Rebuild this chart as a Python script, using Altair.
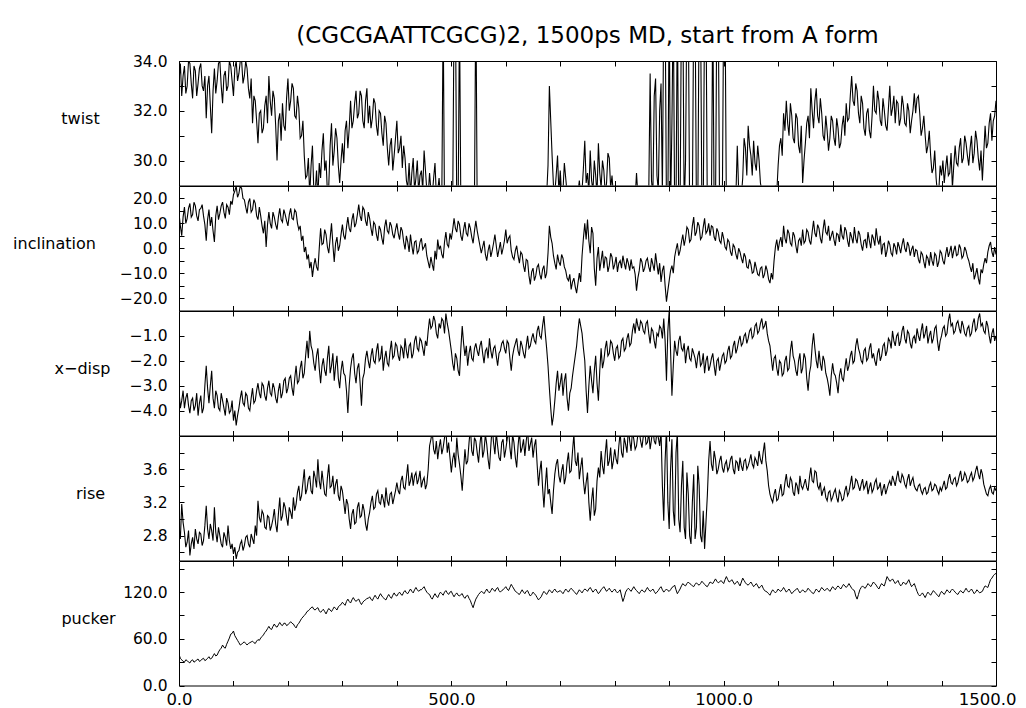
import json
import altair as alt
import pandas as pd

STEP = 5  # ps between samples of the main arrays; *_half arrays sit half-way between
FONT = "DejaVu Sans"

twist = [
    33.2, 32.6, 33.8, 33.0, 33.9, 32.5, 33.6, 33.1, 33.9, 32.8,
    31.7, 33.4, 31.1, 33.7, 33.2, 34.0, 32.3, 33.6, 33.0, 33.8,
    32.6, 34.0, 33.5, 34.0, 33.4, 33.7, 32.5, 31.5, 32.4, 30.7,
    32.0, 31.3, 32.6, 33.4, 31.8, 32.5, 30.0, 31.9, 32.3, 31.2,
    33.3, 32.4, 32.9, 31.7, 32.1, 31.0, 30.2, 29.4, 28.6, 30.6,
    28.7, 28.5, 29.3, 31.1, 30.0, 29.0, 31.5, 30.4, 30.9, 29.1,
    30.7, 31.2, 30.5, 32.4, 31.6, 32.8, 31.9, 32.6, 31.3, 32.9,
    32.2, 31.7, 32.3, 31.0, 31.9, 30.6, 31.5, 29.8, 30.9, 30.2,
    31.6, 30.5, 29.7, 30.1, 28.9, 28.6, 30.1, 29.3, 28.7, 29.6,
    30.4, 28.8, 29.5, 28.6, 29.9, 28.8, 28.5, 36.0, 28.0, 28.5,
    28.2, 36.0, 28.0, 36.0, 28.0, 28.5, 28.4, 28.6, 28.5, 37.0,
    28.0, 28.4, 28.6, 28.5, 28.7, 28.4, 28.6, 28.5, 28.7, 28.4,
    28.5, 28.6, 28.4, 28.7, 28.5, 28.6, 28.4, 28.5, 28.7, 28.6,
    28.5, 28.4, 28.6, 28.5, 28.7, 28.6, 33.0, 30.2, 28.7, 30.2,
    29.6, 28.8, 29.3, 28.6, 28.5, 28.7, 28.6, 29.2, 28.8, 30.8,
    29.5, 30.4, 28.8, 29.4, 30.7, 28.9, 29.6, 29.1, 30.1, 29.4,
    28.7, 28.5, 28.6, 28.5, 28.4, 28.6, 28.5, 28.7, 29.5, 28.6,
    28.5, 28.6, 28.5, 33.5, 28.6, 33.3, 28.8, 33.1, 36.5, 28.0,
    36.5, 31.5, 28.0, 36.5, 28.0, 36.5, 30.0, 36.5, 28.0, 36.5,
    28.0, 36.5, 28.0, 36.5, 28.0, 28.5, 36.5, 28.0, 36.5, 28.0,
    36.5, 28.0, 28.5, 28.6, 28.5, 30.6, 28.7, 29.3, 30.5, 31.4,
    30.2, 30.8, 29.6, 30.0, 28.8, 28.5, 28.5, 28.6, 28.5, 29.0,
    29.8, 30.9, 31.9, 32.4, 31.0, 31.8, 30.7, 31.7, 30.3, 29.1,
    30.7, 31.8, 32.9, 31.3, 32.9, 31.5, 31.9, 30.8, 31.2, 30.9,
    31.6, 30.6, 31.3, 30.7, 31.8, 32.3, 31.7, 33.4, 32.2, 32.8,
    31.5, 32.3, 31.0, 32.1, 30.9, 33.0, 31.9, 32.4, 31.4, 32.0,
    31.2, 33.0, 32.1, 31.5, 32.3, 31.7, 32.2, 31.4, 32.0, 31.6,
    32.7, 32.5, 31.9, 31.3, 31.0, 30.6, 30.2, 29.7, 29.3, 28.8,
    29.4, 29.1, 30.2, 29.5, 28.9, 30.6, 29.8, 30.9, 30.1, 30.7,
    29.8, 31.0, 30.3, 30.8, 29.6, 29.2, 31.4, 30.7, 31.9, 31.6,
    32.4,
]
twist_half = [
    33.9, 33.4, 32.7, 34.0, 33.1, 33.8, 32.6, 33.7, 33.0, 33.4,
    33.0, 32.2, 32.8, 32.7, 33.9, 33.0, 33.4, 32.8, 34.0, 33.2,
    33.7, 33.2, 34.0, 33.1, 34.0, 32.9, 33.3, 32.6, 31.6, 31.9,
    31.1, 32.2, 31.5, 32.4, 32.8, 31.4, 31.6, 30.8, 31.4, 32.5,
    32.0, 33.1, 31.8, 32.6, 30.9, 31.6, 29.3, 30.1, 29.8, 28.8,
    29.6, 29.9, 30.4, 29.6, 28.7, 30.6, 29.8, 31.3, 29.8, 30.0,
    29.9, 31.6, 31.3, 31.3, 32.3, 31.7, 32.8, 31.6, 32.4, 31.5,
    31.3, 32.5, 31.4, 32.0, 31.1, 31.8, 30.5, 30.6, 29.6, 30.9,
    30.3, 31.0, 30.6, 29.2, 29.9, 29.5, 28.8, 30.0, 29.4, 28.8,
    29.6, 28.6, 28.8, 29.3, 28.6, 29.3, 28.4, 28.0, 28.4, 28.6,
    28.3, 36.5, 28.2, 28.0, 28.6, 28.5, 28.7, 28.4, 28.5, 28.0,
    28.5, 28.6, 28.4, 28.6, 28.5, 28.7, 28.4, 28.6, 28.5, 28.6,
    28.4, 28.5, 28.6, 28.4, 28.7, 28.5, 28.6, 28.4, 28.5, 28.7,
    28.6, 28.5, 28.4, 28.6, 28.5, 29.8, 31.6, 29.0, 29.4, 28.7,
    28.6, 29.9, 28.7, 28.5, 28.6, 28.5, 28.7, 28.6, 29.7, 29.1,
    28.7, 29.2, 30.0, 28.6, 29.5, 30.0, 28.7, 30.3, 28.9, 28.6,
    28.6, 28.4, 28.5, 28.6, 28.5, 28.4, 28.6, 28.5, 28.6, 28.4,
    28.4, 28.6, 28.7, 29.2, 32.6, 29.4, 32.0, 28.6, 36.5, 28.0,
    28.0, 36.5, 28.0, 28.0, 36.5, 28.0, 36.5, 28.0, 28.0, 36.5,
    28.0, 36.5, 28.0, 36.5, 28.4, 28.0, 28.0, 36.5, 28.0, 28.0,
    36.5, 28.4, 28.6, 28.5, 28.6, 28.8, 28.6, 30.9, 29.4, 30.6,
    29.4, 29.9, 30.6, 29.1, 28.6, 28.6, 28.4, 28.5, 28.6, 28.7,
    30.6, 30.2, 31.2, 31.5, 32.3, 30.9, 31.9, 30.6, 31.4, 30.0,
    31.5, 30.9, 32.0, 32.4, 31.8, 32.5, 31.0, 31.8, 30.4, 31.8,
    30.9, 31.7, 30.5, 31.4, 31.0, 31.6, 32.6, 32.4, 33.1, 31.9,
    32.6, 31.3, 31.9, 31.2, 31.8, 32.0, 32.8, 31.6, 32.5, 31.4,
    32.1, 31.8, 32.6, 32.4, 31.4, 32.6, 31.5, 32.3, 31.1, 32.0,
    31.9, 32.6, 31.0, 31.8, 30.3, 31.2, 29.5, 30.4, 28.7, 29.8,
    30.0, 29.7, 29.4, 30.3, 29.8, 29.9, 30.5, 29.9, 31.0, 30.2,
    30.5, 29.9, 31.2, 30.1, 30.4, 30.3, 30.5, 31.5, 30.8, 31.8,
]

inclination = [
    14.0, 5.0, 16.5, 12.0, 18.0, 13.5, 17.0, 11.0, 16.0, 13.0,
    3.0, 15.5, 12.5, 2.5, 17.0, 14.0, 18.5, 12.0, 16.5, 19.0,
    21.5, 25.0, 22.0, 24.0, 19.5, 14.0, 20.0, 15.5, 18.0, 11.5,
    13.0, 6.0, 0.5, 14.5, 8.0, 12.5, 7.5, 16.0, 10.5, 13.5,
    9.0, 16.0, 11.5, 14.5, 7.5, 3.0, -1.5, -4.5, -8.0, -11.5,
    -4.0, -9.0, 8.0, 2.0, 5.5, -2.0, 10.0, -5.5, 4.5, 1.0,
    9.5, 3.5, 12.5, 6.5, 14.0, 10.0, 17.5, 11.0, 15.5, 9.0,
    12.0, 5.0, 9.5, 3.0, 7.5, 1.5, 11.5, 6.0, 9.0, 4.0,
    10.0, 3.5, 7.0, -0.5, 2.5, 5.5, -2.5, 3.0, -1.0, 4.0,
    0.5, -3.0, -8.0, -6.5, -1.0, 3.5, 1.0, -4.0, 6.5, 0.5,
    3.5, 12.0, 6.5, 9.5, 3.0, 10.5, 5.0, 8.0, 2.0, 11.0,
    4.0, -2.0, 3.0, -5.0, 1.5, -1.0, 5.5, -3.5, 2.5, 0.0,
    7.5, 4.0, -1.0, -4.5, 1.0, -6.0, -2.5, -9.5, -5.0, -14.5,
    -8.0, -11.0, -6.5, -12.5, -7.0, -10.0, 9.0, 2.0, -6.0, -2.5,
    -7.0, -4.0, -9.0, -13.0, -16.5, -12.0, -18.0, -10.0, -3.0, 10.0,
    11.5, -2.0, 6.0, -15.0, 0.5, -5.0, -8.0, -4.0, -7.0, -3.5,
    -6.5, -9.5, -5.0, -3.0, -8.5, -6.0, -4.5, -7.5, -17.0, -9.0,
    -5.5, -8.0, -4.0, -9.5, -6.5, -2.0, -10.5, -13.5, -7.0, -21.5,
    -13.0, -7.0, -3.5, 2.0, -1.0, 5.5, 4.0, 7.5, 3.5, 12.5,
    6.5, 9.0, 4.5, 12.0, 7.0, 5.0, 8.5, 3.0, 6.5, 2.0,
    4.0, -0.5, 2.5, -3.0, 0.5, -4.5, -1.5, -6.0, -3.5, -8.0,
    -6.5, -9.5, -8.0, -11.0, -7.5, -10.5, -9.0, -14.0, -12.5, 0.5,
    -1.0, 4.5, 9.0, 2.0, 6.0, 1.0, 5.0, -2.0, 4.0, 7.5,
    3.0, 6.5, 1.5, 11.0, 4.5, 8.0, 2.0, 11.5, 5.5, 3.0,
    7.0, 1.0, 5.5, 9.5, 3.5, 7.0, 0.5, 4.5, 8.5, 2.0,
    5.5, -1.0, 3.5, 6.5, 0.0, 4.0, 8.0, 1.5, -2.5, 2.0,
    -1.0, 1.5, -3.0, 0.5, 2.5, -2.0, 4.0, -1.5, 1.0, -0.5,
    -3.5, -1.0, -6.0, -2.5, -8.0, -4.0, -1.5, -7.0, -3.0, -5.5,
    -2.0, -6.5, 0.5, -1.5, -4.0, 1.0, -2.5, 0.0, -3.0, -1.0,
    -5.0, -9.5, -12.5, -8.0, -14.5, -10.0, -4.0, -1.5, 2.5, -3.5,
    -2.5,
]
inclination_half = [
    9.0, 12.5, 10.0, 16.0, 12.5, 18.5, 13.0, 15.5, 17.5, 9.5,
    11.5, 9.0, 7.0, 13.0, 11.5, 17.0, 14.5, 17.5, 13.5, 17.5,
    23.0, 20.5, 25.0, 20.0, 16.5, 18.5, 14.5, 19.5, 13.0, 16.5,
    9.0, 11.0, 9.5, 10.0, 14.5, 9.5, 12.5, 11.5, 15.5, 11.0,
    13.5, 12.0, 15.5, 10.0, 9.0, 5.0, 0.5, -2.5, -5.5, -7.0,
    -7.5, 0.0, 1.5, 7.5, 0.5, 4.0, 1.5, 2.0, -1.0, 5.5,
    5.0, 8.5, 8.0, 11.5, 8.5, 13.5, 13.0, 16.5, 11.0, 14.5,
    8.0, 10.5, 5.5, 9.0, 4.0, 8.5, 7.0, 10.5, 5.5, 7.5,
    6.0, 8.5, 2.5, 5.0, -1.5, 1.0, 2.5, -2.0, 2.5, -0.5,
    2.0, -5.5, -3.5, -9.0, -4.5, -0.5, -2.5, 2.5, 1.5, 6.0,
    7.5, 8.0, 11.0, 5.0, 7.5, 6.0, 10.0, 4.5, 7.0, 7.0,
    1.0, 0.5, -2.5, -1.0, -3.5, 2.0, 1.0, -0.5, -2.5, 3.0,
    2.0, 5.0, -3.5, -1.0, -3.0, -1.5, -7.0, -4.5, -11.0, -9.5,
    -13.0, -7.5, -10.5, -8.5, -12.0, -2.0, 4.5, -3.0, -8.5, -5.5,
    -2.5, -7.5, -12.0, -10.5, -13.5, -15.5, -14.0, -13.5, 4.0, 3.5,
    3.0, 8.5, -8.0, -4.0, -9.0, -1.0, -3.5, -9.5, -2.0, -8.5,
    -3.5, -6.0, -8.0, -6.0, -4.0, -9.0, -8.0, -10.5, -12.0, -4.0,
    -9.5, -5.0, -7.5, -4.0, -9.0, -6.5, -6.0, -9.0, -15.0, -17.0,
    -9.0, -10.0, -0.5, -3.0, 2.5, 1.0, 8.5, 2.5, 9.0, 5.0,
    10.5, 3.5, 8.5, 6.0, 10.0, 9.0, 4.5, 8.0, 3.0, 6.5,
    0.5, 3.5, -1.5, 1.5, -2.5, 0.0, -4.0, -2.0, -7.5, -4.5,
    -10.0, -5.5, -10.5, -8.0, -12.0, -7.0, -12.5, -10.0, -5.0, 3.5,
    2.5, 0.5, 4.0, 7.5, 2.0, 6.5, 1.0, 3.0, 1.0, 2.0,
    7.5, 3.0, 6.5, 6.0, 9.5, 4.0, 7.5, 6.5, 9.0, 5.0,
    3.5, 6.0, 2.5, 5.0, 8.5, 3.0, 6.5, 2.0, 4.0, 7.0,
    1.5, 3.0, 0.0, 3.0, 5.5, 1.0, 3.5, 5.0, 1.5, -3.5,
    3.0, -2.0, 2.0, -2.5, 0.5, 1.5, 0.0, 2.5, -3.0, 1.0,
    -0.5, -4.5, -1.5, -5.5, -3.0, -7.0, -5.0, -2.0, -7.5, -1.0,
    -5.0, -2.5, -3.5, 1.0, -1.0, -3.0, 1.5, -4.0, 0.5, -3.5,
    -7.5, -6.0, -10.5, -12.0, -8.5, -6.5, -6.0, 1.0, -1.5, 0.5,
]

xdisp = [
    -3.2, -3.6, -3.9, -3.3, -4.1, -3.5, -3.8, -4.2, -3.4, -3.9,
    -2.2, -3.7, -2.4, -3.9, -3.4, -4.0, -3.6, -4.2, -3.7, -4.0,
    -4.4, -4.6, -3.9, -3.2, -3.8, -3.4, -4.0, -3.1, -3.6, -2.9,
    -3.5, -3.0, -3.6, -2.8, -3.4, -3.1, -3.7, -2.9, -3.3, -2.7,
    -3.1, -2.6, -3.4, -2.2, -2.8, -2.0, -2.5, -1.2, -0.8, -1.6,
    -2.4, -1.5, -2.9, -1.9, -2.6, -1.4, -2.2, -2.8, -1.8, -3.1,
    -2.0, -2.6, -4.1, -2.3, -1.7, -2.9, -2.1, -3.8, -2.5, -1.6,
    -2.3, -1.5, -2.1, -1.3, -1.9, -2.4, -1.6, -2.2, -1.2, -1.8,
    -1.4, -2.0, -1.5, -1.1, -1.9, -1.3, -1.7, -1.0, -1.6, -1.2,
    -1.8, -1.4, -0.3, -0.6, -0.4, -1.1, -0.7, -0.4, -0.1, -0.8,
    -1.6, -2.4, -1.9, -2.6, -0.6, -1.8, -2.2, -1.4, -2.0, -1.3,
    -1.8, -1.2, -2.1, -1.5, -1.1, -1.9, -1.4, -2.2, -1.6, -1.2,
    -1.7, -1.3, -2.4, -1.5, -1.1, -1.8, -1.4, -1.9, -1.0, -1.4,
    -0.9, -1.3, -0.6, -1.1, -0.2, -1.5, -3.1, -4.6, -3.6, -2.4,
    -2.9, -3.4, -2.5, -4.0, -3.1, -2.2, -1.4, -0.3, -0.9, -2.0,
    -4.1, -2.2, -3.3, -1.8, -3.6, -1.5, -2.0, -1.2, -1.7, -1.3,
    -2.0, -1.4, -1.8, -1.1, -1.5, -0.9, -1.3, -0.5, -0.3, -0.8,
    -0.5, -0.9, -0.4, -1.3, -0.8, -1.5, -1.0, -0.7, -0.3, -2.8,
    0.0, -3.4, -1.2, -1.8, -1.0, -1.6, -2.1, -1.4, -2.0, -1.7,
    -2.3, -1.6, -2.1, -2.5, -1.8, -2.2, -1.7, -2.6, -1.9, -2.1,
    -1.7, -2.0, -1.4, -1.8, -1.2, -1.5, -1.0, -1.3, -0.9, -1.1,
    -0.7, -1.0, -0.5, -0.8, -0.3, -0.6, -0.9, -1.4, -2.4, -1.8,
    -2.6, -2.1, -2.5, -1.8, -2.3, -1.2, -2.0, -2.6, -1.7, -2.3,
    -1.9, -3.2, -2.2, -0.9, -2.0, -1.6, -2.4, -2.0, -2.7, -3.4,
    -2.1, -2.6, -3.3, -2.3, -2.8, -1.9, -2.2, -1.6, -2.0, -1.1,
    -1.7, -2.1, -1.5, -1.9, -1.3, -1.7, -2.2, -1.5, -1.8, -1.3,
    -1.6, -1.2, -0.8, -1.4, -0.9, -1.2, -0.6, -1.3, -0.9, -1.5,
    -1.0, -0.7, -1.2, -0.5, -0.9, -1.3, -0.8, -1.1, -0.6, -1.6,
    -1.0, -0.6, -0.9, -0.1, -0.5, -0.8, -0.4, -0.9, -0.6, -1.0,
    -0.6, -0.9, -0.3, -0.7, -0.1, -0.5, -0.9, -0.6, -1.3, -0.7,
    -1.0,
]
xdisp_half = [
    -3.9, -3.2, -3.5, -3.8, -3.6, -4.0, -3.3, -3.7, -4.1, -3.0,
    -3.1, -3.0, -3.5, -3.2, -3.9, -3.3, -3.9, -3.5, -4.1, -3.6,
    -4.0, -4.2, -3.5, -3.7, -3.3, -3.9, -3.5, -3.7, -3.2, -3.3,
    -2.9, -3.4, -3.1, -3.3, -2.9, -3.5, -3.2, -3.5, -2.8, -3.3,
    -2.7, -3.1, -2.7, -2.9, -2.3, -2.7, -1.8, -1.9, -1.4, -2.1,
    -1.8, -2.3, -2.2, -2.4, -1.9, -2.5, -1.7, -2.2, -2.7, -2.4,
    -2.5, -3.2, -3.0, -1.9, -2.5, -2.3, -2.9, -2.7, -1.9, -2.0,
    -1.8, -2.0, -1.6, -2.0, -1.4, -1.9, -2.1, -1.6, -1.9, -1.3,
    -1.8, -1.4, -1.9, -1.6, -1.4, -1.9, -1.2, -1.5, -1.1, -1.5,
    -1.2, -0.8, -0.7, -0.2, -0.9, -0.5, -0.3, -0.9, -0.5, -1.2,
    -2.1, -1.7, -2.4, -1.5, -1.3, -1.4, -1.7, -1.9, -1.5, -1.6,
    -1.4, -1.7, -1.6, -1.9, -1.6, -1.5, -1.8, -1.7, -1.3, -1.5,
    -1.2, -1.9, -1.8, -1.3, -1.6, -1.2, -1.7, -1.4, -1.5, -1.1,
    -1.2, -0.8, -1.0, -0.6, -0.9, -2.2, -3.9, -4.2, -2.9, -3.2,
    -2.5, -2.8, -3.5, -3.3, -2.6, -1.8, -0.8, -0.6, -1.5, -3.2,
    -3.0, -2.8, -2.4, -2.9, -2.4, -2.3, -1.5, -1.8, -1.2, -1.7,
    -1.5, -1.9, -1.2, -1.6, -1.1, -1.4, -0.8, -0.9, -0.6, -0.4,
    -0.8, -0.5, -0.9, -0.7, -1.2, -0.9, -0.6, -1.1, -1.2, -0.8,
    -1.6, -2.2, -1.6, -1.2, -1.5, -1.3, -1.6, -1.9, -1.5, -1.9,
    -1.8, -2.2, -1.7, -2.0, -2.4, -1.9, -2.2, -2.0, -2.4, -1.8,
    -2.1, -1.6, -1.9, -1.4, -1.7, -1.2, -1.4, -1.0, -1.3, -0.8,
    -1.1, -0.6, -0.9, -0.5, -0.7, -0.4, -1.2, -1.9, -1.9, -2.3,
    -2.0, -2.6, -2.0, -2.4, -1.6, -1.8, -2.4, -2.0, -2.5, -1.7,
    -2.7, -2.5, -1.4, -1.5, -2.3, -2.1, -1.8, -2.5, -3.0, -2.6,
    -2.5, -2.9, -2.6, -2.7, -2.3, -2.4, -1.8, -2.1, -1.4, -1.5,
    -2.0, -1.6, -2.0, -1.5, -1.9, -2.0, -1.7, -2.0, -1.4, -1.8,
    -1.1, -1.5, -1.2, -1.0, -1.4, -0.8, -1.1, -0.8, -1.3, -1.1,
    -1.3, -1.0, -0.8, -1.1, -0.6, -1.0, -1.3, -0.7, -1.2, -1.2,
    -0.7, -1.0, -0.4, -0.6, -0.9, -0.5, -0.7, -0.4, -0.9, -0.7,
    -1.0, -0.5, -0.8, -0.3, -0.6, -0.8, -0.4, -1.0, -0.9, -1.2,
]

rise = [
    2.90, 3.18, 2.84, 2.72, 2.56, 2.78, 2.88, 2.70, 2.82, 2.74,
    3.16, 2.76, 2.86, 3.14, 2.72, 2.80, 2.66, 2.78, 2.92, 2.64,
    2.58, 2.52, 2.62, 2.74, 2.68, 2.80, 2.66, 2.76, 2.92, 3.22,
    2.96, 3.06, 2.88, 3.02, 2.92, 3.12, 2.84, 3.26, 3.04, 3.14,
    2.92, 3.08, 3.26, 3.18, 3.40, 3.28, 3.60, 3.36, 3.52, 3.30,
    3.50, 3.72, 3.36, 3.44, 3.28, 3.66, 3.40, 3.30, 3.48, 3.22,
    3.34, 3.06, 3.18, 2.88, 3.12, 2.96, 3.20, 3.04, 3.10, 2.86,
    3.08, 3.28, 3.14, 3.34, 3.18, 3.24, 3.38, 3.16, 3.32, 3.26,
    3.44, 3.30, 3.52, 3.36, 3.66, 3.46, 3.40, 3.56, 3.48, 3.38,
    3.50, 3.42, 3.88, 4.05, 3.78, 3.72, 3.96, 3.86, 4.08, 3.92,
    3.56, 3.80, 3.98, 3.66, 3.34, 3.84, 3.70, 4.10, 3.76, 3.94,
    3.68, 4.05, 3.82, 3.90, 3.60, 4.12, 3.78, 3.88, 3.70, 3.96,
    3.84, 4.10, 3.72, 3.92, 3.62, 4.06, 3.86, 3.76, 4.08, 3.90,
    3.74, 3.96, 3.40, 3.70, 3.14, 3.62, 3.36, 3.06, 3.54, 3.72,
    3.44, 3.66, 3.50, 3.80, 3.58, 4.02, 3.64, 3.48, 3.74, 3.30,
    3.56, 2.98, 3.38, 3.12, 3.62, 3.82, 3.54, 3.96, 3.70, 3.60,
    3.84, 3.66, 4.04, 3.74, 3.90, 4.10, 3.82, 3.96, 3.88, 4.06,
    3.86, 4.08, 3.92, 3.84, 4.10, 3.90, 3.98, 4.06, 2.98, 4.10,
    2.88, 3.96, 2.92, 4.05, 2.84, 3.70, 2.76, 3.30, 2.70, 3.54,
    2.90, 3.40, 2.72, 2.64, 3.28, 3.94, 3.58, 3.72, 3.60, 3.76,
    3.56, 3.70, 3.62, 3.76, 3.54, 3.68, 3.74, 3.58, 3.72, 3.64,
    3.78, 3.62, 3.70, 3.82, 3.66, 3.92, 3.58, 3.30, 3.20, 3.36,
    3.24, 3.42, 3.30, 3.54, 3.38, 3.46, 3.28, 3.40, 3.52, 3.36,
    3.48, 3.34, 3.62, 3.44, 3.56, 3.36, 3.28, 3.38, 3.22, 3.34,
    3.26, 3.36, 3.20, 3.30, 3.24, 3.40, 3.32, 3.52, 3.38, 3.46,
    3.34, 3.48, 3.40, 3.30, 3.44, 3.36, 3.48, 3.38, 3.28, 3.42,
    3.36, 3.46, 3.52, 3.40, 3.58, 3.44, 3.50, 3.38, 3.54, 3.46,
    3.40, 3.34, 3.42, 3.30, 3.38, 3.32, 3.44, 3.36, 3.40, 3.30,
    3.34, 3.46, 3.38, 3.54, 3.42, 3.50, 3.44, 3.58, 3.48, 3.52,
    3.46, 3.56, 3.50, 3.64, 3.48, 3.54, 3.36, 3.28, 3.40, 3.30,
    3.34,
]
rise_half = [
    2.76, 2.96, 2.66, 2.86, 2.70, 2.64, 2.76, 2.84, 2.68, 2.92,
    2.88, 2.94, 2.74, 2.84, 2.90, 2.70, 2.84, 2.68, 2.74, 2.70,
    2.66, 2.60, 2.70, 2.62, 2.78, 2.70, 2.82, 2.70, 2.80, 3.02,
    3.10, 2.90, 3.04, 2.86, 3.00, 2.94, 3.06, 2.98, 3.20, 3.02,
    3.14, 3.00, 3.10, 3.32, 3.22, 3.44, 3.30, 3.48, 3.34, 3.58,
    3.38, 3.46, 3.58, 3.30, 3.50, 3.38, 3.52, 3.42, 3.28, 3.40,
    3.20, 3.24, 3.00, 3.06, 2.94, 3.14, 3.02, 3.18, 2.94, 3.00,
    3.20, 3.12, 3.30, 3.20, 3.30, 3.14, 3.22, 3.30, 3.18, 3.34,
    3.34, 3.46, 3.38, 3.50, 3.40, 3.56, 3.52, 3.42, 3.58, 3.46,
    3.36, 3.60, 3.96, 3.84, 3.94, 3.86, 3.78, 3.98, 3.80, 3.74,
    3.72, 3.62, 3.78, 3.52, 3.60, 3.66, 3.92, 3.82, 3.98, 3.80,
    3.90, 3.74, 4.02, 3.72, 3.88, 3.92, 4.04, 3.74, 3.92, 3.74,
    3.96, 3.86, 4.02, 3.74, 3.88, 3.80, 3.96, 3.94, 3.82, 3.98,
    3.88, 3.66, 3.58, 3.38, 3.40, 3.30, 3.20, 3.34, 3.66, 3.52,
    3.58, 3.42, 3.68, 3.56, 3.82, 3.70, 3.80, 3.62, 3.46, 3.44,
    3.20, 3.22, 3.04, 3.46, 3.50, 3.64, 3.78, 3.64, 3.86, 3.70,
    3.72, 3.88, 3.80, 3.98, 3.80, 3.94, 4.06, 3.84, 4.02, 3.94,
    4.00, 3.90, 4.04, 3.96, 3.94, 4.06, 3.88, 3.40, 3.70, 3.20,
    3.60, 3.10, 3.80, 3.00, 3.40, 2.90, 3.56, 2.80, 3.20, 2.76,
    3.64, 2.80, 3.10, 2.96, 3.70, 3.66, 3.82, 3.54, 3.70, 3.62,
    3.66, 3.58, 3.72, 3.60, 3.70, 3.58, 3.64, 3.70, 3.60, 3.70,
    3.66, 3.74, 3.64, 3.72, 3.80, 3.70, 3.40, 3.24, 3.30, 3.22,
    3.34, 3.28, 3.44, 3.40, 3.50, 3.32, 3.44, 3.30, 3.40, 3.42,
    3.38, 3.50, 3.46, 3.58, 3.40, 3.44, 3.34, 3.26, 3.32, 3.22,
    3.32, 3.26, 3.34, 3.22, 3.34, 3.28, 3.42, 3.36, 3.48, 3.40,
    3.42, 3.36, 3.46, 3.38, 3.32, 3.44, 3.36, 3.44, 3.36, 3.30,
    3.42, 3.40, 3.46, 3.50, 3.46, 3.54, 3.42, 3.48, 3.40, 3.50,
    3.36, 3.40, 3.34, 3.36, 3.30, 3.40, 3.34, 3.42, 3.34, 3.38,
    3.40, 3.36, 3.48, 3.44, 3.48, 3.40, 3.52, 3.46, 3.56, 3.44,
    3.52, 3.46, 3.58, 3.54, 3.60, 3.42, 3.30, 3.36, 3.32, 3.38,
]

pucker = [
    40, 33, 30, 32, 29, 33, 31, 34, 32, 35,
    33, 37, 35, 41, 39, 46, 52, 48, 57, 66,
    70, 61, 55, 53, 56, 52, 55, 57, 54, 59,
    61, 65, 70, 76, 72, 79, 75, 81, 77, 80,
    78, 82, 79, 74, 80, 86, 90, 95, 98, 101,
    97, 100, 94, 98, 92, 99, 95, 101, 97, 103,
    107, 103, 111, 106, 113, 108, 111, 104, 109, 112,
    114, 109, 116, 111, 118, 113, 110, 117, 112, 119,
    115, 120, 116, 122, 118, 124, 119, 126, 121, 123,
    127, 120, 117, 111, 118, 113, 120, 116, 122, 117,
    121, 114, 119, 115, 118, 112, 116, 109, 100, 111,
    117, 121, 118, 124, 119, 125, 121, 126, 120, 123,
    127, 122, 130, 124, 120, 117, 123, 118, 122, 115,
    120, 116, 110, 114, 121, 117, 123, 119, 124, 120,
    122, 118, 124, 120, 125, 121, 117, 123, 119, 124,
    121, 126, 120, 124, 118, 123, 127, 121, 125, 120,
    124, 119, 123, 108, 120, 125, 121, 127, 122, 118,
    123, 120, 126, 121, 124, 118, 122, 127, 120, 124,
    121, 126, 129, 118, 124, 131, 128, 133, 130, 127,
    132, 129, 134, 130, 127, 133, 131, 137, 132, 135,
    131, 140, 133, 136, 130, 134, 128, 138, 132, 129,
    133, 127, 131, 125, 129, 122, 120, 116, 123, 119,
    124, 121, 126, 120, 124, 118, 122, 125, 119, 123,
    120, 125, 121, 118, 124, 120, 126, 122, 125, 121,
    127, 123, 128, 124, 130, 126, 131, 125, 122, 111,
    123, 128, 125, 131, 127, 133, 129, 124, 131, 128,
    140, 134, 137, 131, 135, 128, 133, 130, 136, 127,
    131, 121, 115, 119, 113, 120, 116, 122, 118, 114,
    121, 117, 123, 119, 124, 120, 117, 122, 119, 125,
    120, 124, 118, 123, 119, 121, 128, 126, 136, 141,
    144,
]
pucker_half = [
    35, 31, 33, 30, 32, 30, 33, 31, 34, 32,
    35, 34, 38, 38, 43, 48, 49, 53, 61, 67,
    64, 58, 52, 55, 54, 54, 56, 55, 57, 58,
    63, 68, 73, 73, 76, 76, 78, 78, 80, 77,
    80, 80, 76, 78, 83, 88, 92, 96, 100, 98,
    99, 96, 96, 95, 96, 97, 98, 99, 101, 104,
    105, 108, 108, 110, 110, 110, 107, 107, 110, 112,
    111, 113, 113, 115, 115, 111, 114, 114, 116, 116,
    118, 117, 120, 119, 121, 121, 123, 123, 123, 125,
    123, 118, 113, 115, 115, 117, 118, 120, 119, 120,
    117, 117, 116, 117, 114, 115, 112, 104, 106, 114,
    119, 120, 121, 121, 122, 123, 124, 122, 122, 125,
    124, 126, 127, 121, 118, 120, 120, 121, 118, 117,
    118, 113, 112, 118, 119, 120, 121, 122, 121, 121,
    120, 121, 122, 123, 123, 119, 120, 121, 122, 123,
    124, 123, 122, 121, 120, 125, 124, 123, 122, 122,
    121, 121, 115, 113, 123, 123, 124, 124, 120, 121,
    121, 123, 123, 122, 121, 120, 125, 123, 122, 122,
    123, 127, 123, 121, 128, 129, 131, 131, 128, 130,
    130, 131, 132, 128, 130, 132, 134, 134, 133, 133,
    136, 136, 134, 133, 132, 131, 133, 135, 130, 131,
    130, 129, 128, 127, 125, 121, 118, 120, 121, 121,
    122, 123, 123, 122, 121, 120, 123, 122, 121, 121,
    122, 123, 119, 121, 122, 123, 124, 123, 123, 124,
    125, 126, 126, 127, 128, 128, 128, 123, 115, 117,
    126, 126, 128, 129, 130, 131, 126, 128, 129, 134,
    137, 135, 134, 133, 131, 130, 131, 133, 131, 129,
    126, 117, 117, 116, 117, 118, 119, 120, 116, 118,
    119, 120, 121, 122, 122, 118, 120, 120, 122, 122,
    122, 121, 120, 121, 120, 125, 127, 131, 138, 143,
]

TITLE = "(CGCGAATTCGCG)2, 1500ps MD, start from A form"
X_TICKS = list(range(0, 1501, 100))
X_LABELS = [0, 500, 1000, 1500]

# name, values, half-step values, y domain, tick values, labelled ticks, title centre x
PANELS = [
    ("twist", twist, twist_half, [29, 34], [30, 31, 32, 33, 34], [30, 32, 34], -104),
    ("inclination", inclination, inclination_half, [-25, 25],
     [-20, -15, -10, -5, 0, 5, 10, 15, 20], [-20, -10, 0, 10, 20], -130),
    ("x\u2212disp", xdisp, xdisp_half, [-5, 0], [-4, -3, -2, -1], [-4, -3, -2, -1], -102),
    ("rise", rise, rise_half, [2.5, 4.0], [2.6, 2.8, 3.0, 3.2, 3.4, 3.6, 3.8],
     [2.8, 3.2, 3.6], -94),
    ("pucker", pucker, pucker_half, [0, 160], [0, 30, 60, 90, 120, 150], [0, 60, 120], -96),
]

W, H = 817, 124.5
TICK = dict(grid=False, domain=False, tickColor="black", tickWidth=1,
            tickSize=5, offset=-5)


def series_frame(main, half):
    ts, vs = [], []
    for i, v in enumerate(main):
        ts.append(STEP * i)
        vs.append(v)
        if i < len(half):
            ts.append(STEP * i + STEP / 2)
            vs.append(half[i])
    return pd.DataFrame({"t": ts, "v": vs})


def make_panel(idx, name, values, half, domain, ticks, labels, title_x):
    df = series_frame(values, half)
    xs = alt.Scale(domain=[0, 1500], nice=False, zero=False)
    ys = alt.Scale(domain=domain, nice=False, zero=False)
    last = idx == len(PANELS) - 1
    if last:
        xb = alt.Axis(orient="bottom", values=X_TICKS, title=None,
                      labelExpr="indexof(%s, datum.value) >= 0 ? format(datum.value, '.1f') : ''"
                      % json.dumps(X_LABELS),
                      labelFont=FONT, labelFontSize=16.5, labelColor="black",
                      labelPadding=6, labelFlush=False, labelOverlap=False,
                      labelOffset={"condition": {"test": "datum.value === 1500", "value": -9},
                                   "value": 0},
                      **TICK)
    else:
        xb = alt.Axis(orient="bottom", values=X_TICKS, title=None, labels=False, **TICK)
    xt = alt.Axis(orient="top", values=X_TICKS, title=None, labels=False, **TICK)
    yl = alt.Axis(orient="left", values=ticks,
                  labelExpr="indexof(%s, datum.value) >= 0 ? format(datum.value, '.1f') : ''"
                  % json.dumps(labels),
                  labelFont=FONT, labelFontSize=15.5, labelColor="black",
                  labelPadding=12, labelFlush=False, labelOverlap=False,
                  title=name, titleFont=FONT, titleFontSize=16, titleFontWeight="normal",
                  titleColor="black", titleAngle=0, titleAlign="center",
                  titleBaseline="alphabetic", titleX=title_x, titleY=62, **TICK)
    yr = alt.Axis(orient="right", values=ticks, title=None, labels=False, **TICK)

    width = 1.0 if last else 1.1
    line = alt.Chart(df).mark_line(color="black", strokeWidth=width, clip=True).encode(
        x=alt.X("t:Q", scale=xs, axis=xb),
        y=alt.Y("v:Q", scale=ys, axis=yl),
    )
    ghost = alt.Chart(df).mark_line(color="black", opacity=0, clip=True).encode(
        x=alt.X("t:Q", scale=xs, axis=xt),
        y=alt.Y("v:Q", scale=ys, axis=yr),
    )
    ch = alt.layer(line, ghost).resolve_axis(x="independent", y="independent").properties(
        width=W, height=H)
    if idx == 0:
        ch = ch.properties(title=alt.TitleParams(
            text=TITLE, font=FONT, fontSize=23, fontWeight="normal", color="black",
            anchor="middle", frame="group", offset=6))
    return ch


panels = [make_panel(i, *p) for i, p in enumerate(PANELS)]

chart = alt.vconcat(*panels, spacing=0, bounds="flush").properties(
    padding={"left": 4, "top": 16, "right": 0, "bottom": 0},
    background="white",
).configure_view(stroke="black", strokeWidth=1)

chart.save("out.html", embed_options={"renderer": "svg", "actions": False})
